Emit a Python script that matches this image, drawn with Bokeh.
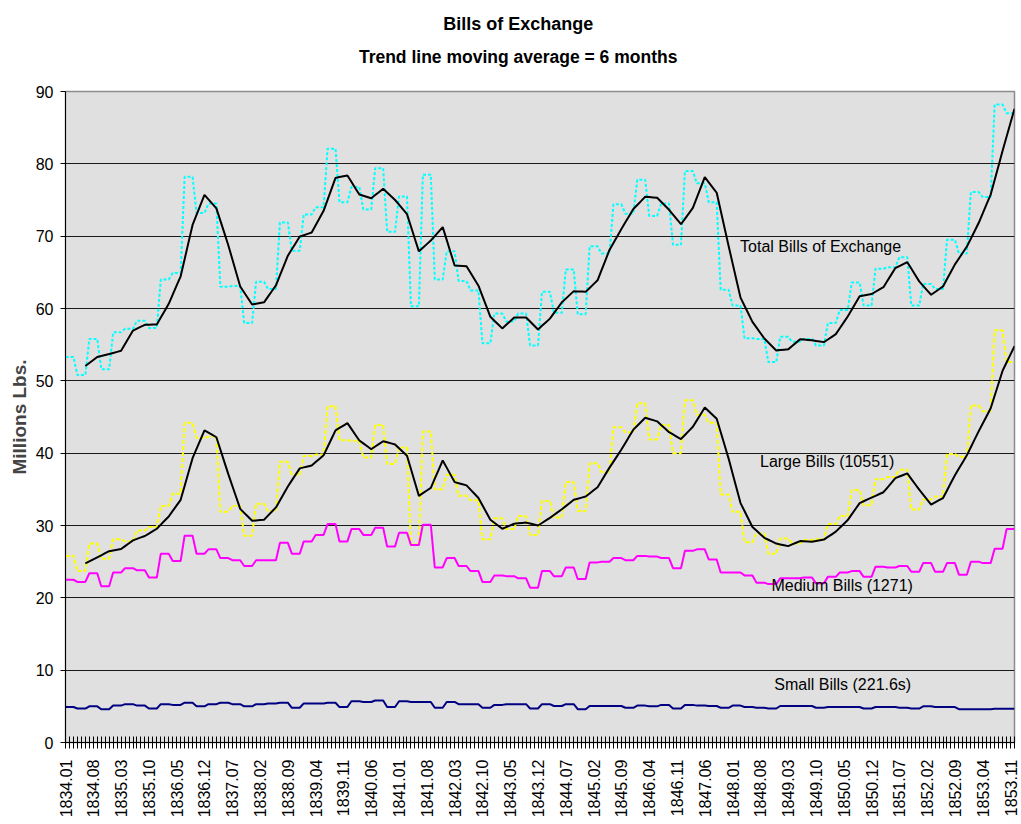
import math
import numpy as np
import pandas as pd
from bokeh.plotting import figure
from bokeh.models import FixedTicker, Label, Range1d, ColumnDataSource, LinearAxis
from bokeh.embed import file_html
from bokeh.resources import INLINE

# ---- categories: monthly, 1834.01 .. 1853.12 ----
months = [f"{1834 + i // 12}.{i % 12 + 1:02d}" for i in range(240)]
label_every = 7

# ---- quarterly values (each held for 3 months), millions of pounds ----
total_q = [53.3, 50.8, 55.8, 51.6, 56.7, 57.2, 58.3, 57.3, 64.0, 64.9,
           78.2, 73.2, 74.5, 63.0, 63.1, 58.0, 63.7, 62.7, 71.9, 68.0,
           73.0, 74.0, 82.1, 74.7, 76.8, 73.7, 79.4, 70.6, 75.5, 60.3,
           78.5, 64.0, 67.9, 63.8, 62.5, 55.2, 59.3, 58.2, 59.3, 54.9,
           62.3, 59.4, 65.4, 59.2, 68.6, 67.6, 74.4, 73.1, 77.8, 72.8,
           74.5, 68.8, 79.0, 77.3, 74.7, 62.6, 60.4, 55.9, 55.8, 52.6,
           56.1, 55.4, 55.8, 54.9, 58.0, 59.8, 63.6, 60.4, 65.5, 65.7,
           67.1, 60.4, 63.4, 62.7, 69.5, 67.6, 76.1, 75.4, 88.2, 87.0]

large_q = [25.8, 23.7, 27.5, 25.4, 28.1, 27.8, 29.3, 29.8, 32.7, 34.4,
           44.2, 42.1, 42.3, 31.9, 32.7, 28.6, 33.0, 32.0, 38.8, 37.0,
           39.6, 39.8, 46.5, 41.8, 41.7, 39.4, 43.9, 38.5, 40.8, 27.4,
           43.0, 35.0, 37.0, 34.1, 33.5, 28.1, 31.0, 29.5, 31.3, 28.7,
           33.4, 31.1, 36.0, 32.0, 38.6, 37.4, 43.6, 42.9, 46.9, 41.9,
           43.9, 40.0, 47.3, 45.3, 44.2, 34.3, 31.9, 27.7, 28.9, 26.1,
           28.2, 27.5, 28.0, 28.1, 30.2, 31.3, 34.9, 32.8, 36.4, 36.7,
           37.7, 32.2, 33.6, 34.0, 39.9, 39.5, 46.6, 45.8, 57.0, 52.6]

medium_q = [22.5, 22.2, 23.4, 21.6, 23.5, 24.1, 23.8, 22.8, 26.1, 25.1,
            28.6, 26.1, 26.7, 25.5, 25.2, 24.4, 25.2, 25.2, 27.6, 26.1,
            27.8, 28.7, 30.2, 27.8, 29.5, 28.7, 29.7, 27.1, 29.0, 27.3,
            30.1, 24.2, 25.5, 24.4, 23.7, 22.2, 23.1, 23.0, 22.7, 21.4,
            23.7, 23.0, 24.2, 22.6, 24.9, 25.0, 25.5, 25.2, 25.8, 25.7,
            25.5, 24.1, 26.5, 26.7, 25.3, 23.5, 23.5, 23.1, 22.1, 21.9,
            22.7, 22.7, 22.8, 22.0, 22.9, 23.5, 23.7, 22.9, 24.3, 24.2,
            24.4, 23.6, 24.8, 23.6, 24.8, 23.2, 25.0, 24.8, 26.8, 29.5]

small_q = [4.9, 4.7, 5.0, 4.6, 5.1, 5.3, 5.1, 4.7, 5.3, 5.2,
           5.5, 5.0, 5.3, 5.5, 5.3, 5.0, 5.3, 5.4, 5.5, 4.8,
           5.4, 5.4, 5.5, 4.9, 5.7, 5.6, 5.8, 4.9, 5.7, 5.6,
           5.6, 4.8, 5.6, 5.3, 5.3, 4.8, 5.2, 5.3, 5.3, 4.7,
           5.3, 5.05, 5.3, 4.6, 5.05, 5.05, 5.05, 4.8, 5.1, 5.0,
           5.2, 4.7, 5.2, 5.1, 5.05, 4.8, 5.1, 4.9, 4.8, 4.7,
           5.05, 5.05, 5.05, 4.8, 4.9, 4.9, 4.9, 4.7, 4.9, 4.9,
           4.8, 4.7, 5.0, 4.9, 4.9, 4.6, 4.6, 4.6, 4.65, 4.65]

ma_period = 6

# ---- monthly series ----
x = np.arange(len(months))
total = np.repeat(total_q, 3)
large = np.repeat(large_q, 3)
medium = np.repeat(medium_q, 3)
small = np.repeat(small_q, 3)
total_ma = pd.Series(total).rolling(ma_period).mean().to_numpy()
large_ma = pd.Series(large).rolling(ma_period).mean().to_numpy()

src = ColumnDataSource(dict(x=x, total=total, large=large, medium=medium,
                            small=small, total_ma=total_ma, large_ma=large_ma))

FONT = "Liberation Sans"

p = figure(width=1021, height=824, output_backend="svg", toolbar_location=None,
           x_range=Range1d(0, len(months) - 1), y_range=Range1d(0, 90),
           min_border_left=65, min_border_right=7, min_border_top=91,
           min_border_bottom=82, title=None)

p.background_fill_color = "#E0E0E0"
p.border_fill_color = "white"
p.outline_line_color = "#8C8C8C"
p.outline_line_width = 1.5

# grid
p.xgrid.grid_line_color = None
p.ygrid.grid_line_color = "#1a1a1a"
p.ygrid.grid_line_width = 1
p.ygrid.ticker = FixedTicker(ticks=list(range(10, 90, 10)))

# y axis
p.yaxis.ticker = FixedTicker(ticks=list(range(0, 91, 10)))
p.yaxis.axis_label = "Millions Lbs."
p.yaxis.axis_label_text_font = FONT
p.yaxis.axis_label_text_font_size = "19px"
p.yaxis.axis_label_text_font_style = "bold"
p.yaxis.axis_label_standoff = 3
p.yaxis.major_label_text_font = FONT
p.yaxis.major_label_text_font_size = "16px"
p.yaxis.major_label_text_color = "black"
p.yaxis.major_label_standoff = 7
p.yaxis.major_tick_in = 0
p.yaxis.major_tick_out = 5
p.yaxis.minor_tick_line_color = None
p.yaxis.axis_line_color = "black"
p.yaxis.major_tick_line_color = "black"

# x axis: tick every month, label every 7th month
p.xaxis.ticker = FixedTicker(ticks=list(x))
p.xaxis.major_label_overrides = {int(i): (months[i] if i % label_every == 0 else "")
                                 for i in x}
p.xaxis.major_label_orientation = math.pi / 2
p.xaxis.major_label_text_font = FONT
p.xaxis.major_label_text_font_size = "16px"
p.xaxis.major_label_text_color = "black"
p.xaxis.major_label_standoff = 11
p.xaxis.major_tick_in = 6
p.xaxis.major_tick_out = 6
p.xaxis.minor_tick_line_color = None
p.xaxis.axis_line_color = "black"
p.xaxis.major_tick_line_color = "black"

# two-line chart title, drawn as tick labels of two bare axes above the plot
title_lines = ["Trend line moving average = 6 months", "Bills of Exchange"]  # inner, outer
title_x = 114.0
for txt, stand, fs in zip(title_lines, [25, 10], ["17.5px", "18px"]):
    ax = LinearAxis(ticker=FixedTicker(ticks=[title_x]),
                    major_label_overrides={title_x: txt},
                    axis_line_color=None, major_tick_line_color=None,
                    minor_tick_line_color=None, major_tick_in=0, major_tick_out=0,
                    major_label_standoff=stand, major_label_text_font=FONT,
                    major_label_text_font_size=fs,
                    major_label_text_font_style="bold",
                    major_label_text_color="black")
    p.add_layout(ax, "above")

# series
p.line("x", "total", source=src, line_color="#00FFFF", line_width=2, line_dash="3 2")
p.line("x", "large", source=src, line_color="#FFFF00", line_width=2, line_dash="4 2")
p.line("x", "medium", source=src, line_color="#FF00FF", line_width=2)
p.line("x", "small", source=src, line_color="#000080", line_width=2)
p.line("x", "total_ma", source=src, line_color="black", line_width=2)
p.line("x", "large_ma", source=src, line_color="black", line_width=2)

# series labels
for tx, lx, ly in [("Total Bills of Exchange", 169.9, 68.6),
                   ("Large Bills (10551)", 174.9, 38.9),
                   ("Medium Bills (1271)", 177.8, 21.7),
                   ("Small Bills (221.6s)", 178.5, 8.0)]:
    p.add_layout(Label(x=lx, y=ly, text=tx, text_font=FONT, text_font_size="16px",
                       text_baseline="middle", text_align="left", text_color="black"))

open("out.html", "w").write(file_html(p, INLINE))
